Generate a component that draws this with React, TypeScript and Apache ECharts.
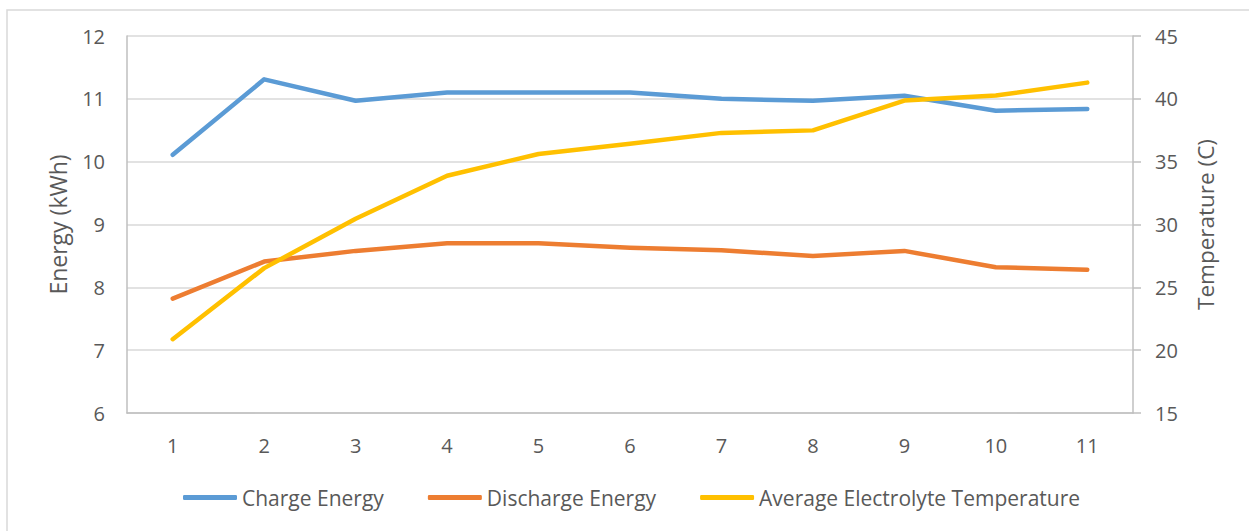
import React, { useEffect, useRef } from "react";
import * as echarts from "echarts";

// Cycle numbers on the horizontal axis
const cycles = ["1", "2", "3", "4", "5", "6", "7", "8", "9", "10", "11"];

// Energy per cycle (kWh), left axis
const chargeEnergy = [10.11, 11.31, 10.97, 11.1, 11.1, 11.1, 11.0, 10.97, 11.05, 10.81, 10.84];
const dischargeEnergy = [7.82, 8.41, 8.58, 8.7, 8.7, 8.63, 8.59, 8.5, 8.58, 8.32, 8.28];

// Mean electrolyte temperature per cycle (C), right axis
const electrolyteTemp = [20.87, 26.53, 30.46, 33.88, 35.61, 36.43, 37.29, 37.49, 39.86, 40.26, 41.29];

const seriesNames = ["Charge Energy", "Discharge Energy", "Average Electrolyte Temperature"];
const seriesColors = ["#5b9bd5", "#ed7d31", "#ffc000"];

const FONT = "'Open Sans', sans-serif";
const TEXT = "#595959";
const AXIS = "#bfbfbf";
const GRID = "#d9d9d9";

export default function App() {
  const ref = useRef<HTMLDivElement>(null);

  useEffect(() => {
    if (!ref.current) return;
    const chart = echarts.init(ref.current, null, { renderer: "svg" });

    const lineSeries = (i: number, data: number[], yAxisIndex: number) => ({
      name: seriesNames[i],
      type: "line",
      yAxisIndex,
      data,
      symbol: "none",
      showSymbol: false,
      smooth: false,
      itemStyle: { color: seriesColors[i] },
      lineStyle: { color: seriesColors[i], width: 4.5, cap: "round", join: "round" },
      z: 2 + i,
    });

    chart.setOption({
      animation: false,
      backgroundColor: "#ffffff",
      textStyle: { fontFamily: FONT },
      graphic: [
        {
          type: "rect",
          shape: { x: 7, y: 10, width: 1300, height: 600 },
          style: { fill: "none", stroke: GRID, lineWidth: 1.5 },
          silent: true,
        },
      ],
      grid: { left: 127, right: 116, top: 36, bottom: 118, containLabel: false },
      legend: {
        left: 183,
        top: 487,
        padding: 0,
        icon: "roundRect",
        itemWidth: 54,
        itemHeight: 5,
        itemGap: 44,
        data: seriesNames,
        textStyle: { color: TEXT, fontSize: 21, fontFamily: FONT },
      },
      xAxis: {
        type: "category",
        data: cycles,
        boundaryGap: true,
        axisLine: { show: true, lineStyle: { color: AXIS, width: 1.5 } },
        axisTick: { show: false },
        axisLabel: { color: TEXT, fontSize: 20, fontFamily: FONT, margin: 22 },
        splitLine: { show: false },
      },
      yAxis: [
        {
          type: "value",
          min: 6,
          max: 12,
          interval: 1,
          name: "Energy (kWh)",
          nameLocation: "middle",
          nameGap: 58,
          nameTextStyle: { color: TEXT, fontSize: 23, fontFamily: FONT },
          axisLine: { show: true, lineStyle: { color: AXIS, width: 1.5 } },
          axisTick: { show: false },
          axisLabel: { color: TEXT, fontSize: 20, fontFamily: FONT, margin: 22 },
          splitLine: { show: true, lineStyle: { color: GRID, width: 1.5 } },
        },
        {
          type: "value",
          min: 15,
          max: 45,
          interval: 5,
          position: "right",
          name: "Temperature (C)",
          nameLocation: "middle",
          nameGap: 61,
          nameTextStyle: { color: TEXT, fontSize: 22.5, fontFamily: FONT },
          axisLine: { show: true, lineStyle: { color: AXIS, width: 1.5 } },
          axisTick: { show: true, inside: false, length: 8, lineStyle: { color: AXIS, width: 1.5 } },
          axisLabel: { color: TEXT, fontSize: 20, fontFamily: FONT, margin: 22 },
          splitLine: { show: false },
        },
      ],
      series: [
        lineSeries(0, chargeEnergy, 0),
        lineSeries(1, dischargeEnergy, 0),
        lineSeries(2, electrolyteTemp, 1),
      ],
    });

    return () => chart.dispose();
  }, []);

  return (
    <div
      ref={ref}
      style={{ position: "absolute", left: 0, top: 0, width: 1249, height: 531 }}
    />
  );
}
